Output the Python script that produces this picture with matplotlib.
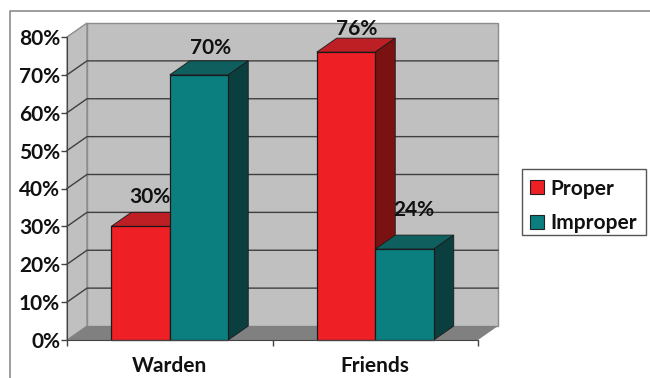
import matplotlib
matplotlib.use("Agg")
import matplotlib.pyplot as plt
from matplotlib.patches import Polygon, Patch, Rectangle
from matplotlib.lines import Line2D

categories = ["Warden", "Friends"]
proper = [30, 76]
improper = [70, 24]
series_names = ["Proper", "Improper"]
y_ticks = [0, 10, 20, 30, 40, 50, 60, 70, 80]

W, H = 650, 378
plt.rcParams["font.family"] = ["Lato", "DejaVu Sans"]
plt.rcParams["font.weight"] = "bold"
FS = 15

fig = plt.figure(figsize=(W / 100, H / 100), dpi=100, facecolor="white")
ax = fig.add_axes([67 / W, (H - 340) / H, (478 - 67) / W, (340 - 37) / H])
ax.set_xlim(0, 2)
ax.set_ylim(0, 80)
ax.patch.set_visible(False)
for s in ax.spines.values():
    s.set_visible(False)

DX = 20 / (411 / 2)      # depth offset in category units
DY = 14 / (303 / 80)     # depth offset in percent units
BW = 58.5 / (411 / 2)

WALL = "#C0C0C0"; FLOOR = "#808080"; EDGE = "#8C8C8C"; GRID = "#3F3F3F"
RED = ("#EE1F25", "#BE1F25", "#7A1212")
TEAL = ("#0B7F7F", "#0F5F5F", "#0B3F3F")


def poly(pts, fc, ec="none", lw=0.0, z=1):
    ax.add_patch(Polygon(pts, closed=True, facecolor=fc, edgecolor=ec,
                         linewidth=lw, clip_on=False, zorder=z))


# back wall, side wall, floor
poly([(DX, DY), (2 + DX, DY), (2 + DX, 80 + DY), (DX, 80 + DY)], WALL, EDGE, 1.0, 1)
poly([(0, 0), (DX, DY), (DX, 80 + DY), (0, 80)], WALL, EDGE, 1.0, 1)
poly([(0, 0), (DX, DY), (2 + DX, DY), (2, 0)], FLOOR, "none", 0, 1.5)

# gridlines running around the walls (none at the top edge)
for t in y_ticks[1:-1]:
    ax.plot([0, DX, 2 + DX], [t, t + DY, t + DY], color=GRID, lw=1.0,
            clip_on=False, zorder=2, solid_joinstyle="miter")


def bar3d(x_left, v, cols, z):
    x_right = x_left + BW
    ax.bar(x_left, v, width=BW, align="edge", color=cols[0], edgecolor="#1a1a1a",
           linewidth=0.9, zorder=z + 0.2, clip_on=False)
    poly([(x_left, v), (x_left + DX, v + DY), (x_right + DX, v + DY), (x_right, v)],
         cols[1], "#1a1a1a", 0.6, z)
    poly([(x_right, 0), (x_right + DX, DY), (x_right + DX, v + DY), (x_right, v)],
         cols[2], "#1a1a1a", 0.6, z)


centers = [0.5, 1.5]
for i, c in enumerate(centers):
    bar3d(c - BW, proper[i], RED, 3 + i * 2)
    bar3d(c, improper[i], TEAL, 4 + i * 2)

# bottom axis and ticks
ax.set_xticks([0, 1, 2])
ax.set_xticklabels([])
ax.tick_params(axis="x", length=4, width=1, color="#444444", direction="out")
ax.set_yticks(y_ticks)
ax.set_yticklabels([f"{t}%" for t in y_ticks], fontsize=FS, fontweight="bold", color="#111111")
ax.tick_params(axis="y", length=4, width=1, color="#444444", pad=1)
ax.spines["left"].set_visible(True)
ax.spines["left"].set_color("#444444")
ax.spines["bottom"].set_visible(True)
ax.spines["bottom"].set_color("#444444")
ax.spines["bottom"].set_zorder(20)

for c, name in zip(centers, categories):
    ax.annotate(name, (c, 0), xytext=(0, -26), textcoords="offset pixels",
                ha="center", va="center", fontsize=FS, fontweight="bold",
                color="#111111", annotation_clip=False)

# value labels
offsets_p = [(9, 29), (11, 23)]
offsets_i = [(12, 27), (9, 39)]
for i, c in enumerate(centers):
    for x, v, off in ((c - BW / 2, proper[i], offsets_p[i]), (c + BW / 2, improper[i], offsets_i[i])):
        ax.annotate(f"{v}%", (x, v), xytext=off, textcoords="offset pixels",
                    ha="center", va="center", fontsize=FS, fontweight="bold",
                    color="#111111", annotation_clip=False, zorder=30)

# outer frame (top and left only)
fig.add_artist(Line2D([10 / W, 10 / W, 1], [0, (H - 11) / H, (H - 11) / H],
                      color="#8C8C8C", lw=1.2))

# legend box drawn separately so the rows can sit as in the reference
fig.add_artist(Rectangle((522 / W, (H - 235) / H), (646 - 522) / W, 66 / H,
                         transform=fig.transFigure, facecolor="white",
                         edgecolor="#555555", linewidth=1.0))
handles = [Patch(facecolor=RED[0], edgecolor="#222222", linewidth=0.8),
           Patch(facecolor=TEAL[0], edgecolor="#222222", linewidth=0.8)]
leg = fig.legend(handles, series_names, loc="center left",
                 bbox_to_anchor=(522 / W, (H - 206) / H), frameon=False,
                 fontsize=FS, handlelength=0.67, handleheight=0.67,
                 handletextpad=0.3, labelspacing=0.7, borderpad=0.4, borderaxespad=0)
leg.set_zorder(5)
for t in leg.get_texts():
    t.set_fontweight("bold")
    t.set_color("#111111")

fig.savefig("out.png", dpi=100)
